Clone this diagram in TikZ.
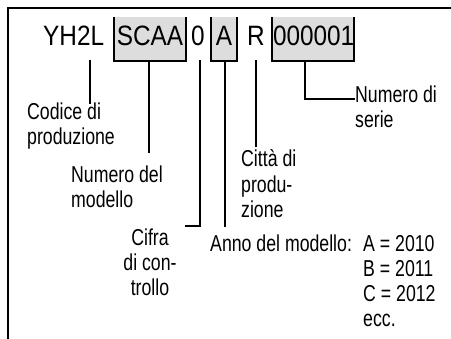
\documentclass[tikz,border=0pt]{standalone}
\usepackage{fontspec}
\setmainfont{Liberation Sans}
\newfontfamily\narrowf[FakeStretch=0.77]{Liberation Sans}
\newfontfamily\codef[FakeStretch=0.87]{Liberation Sans}
\definecolor{boxgray}{RGB}{221,221,221}
\tikzset{
  code/.style={font=\codef\fontsize{28}{30}\selectfont, inner sep=0pt, anchor=base},
  lbl/.style={font=\narrowf\fontsize{23}{25}\selectfont, inner sep=0pt, anchor=base west},
  lblc/.style={lbl, anchor=base},
  conn/.style={line width=2.5pt},
  bracket/.style={line width=2.5pt},
  framel/.style={line width=2.5pt},
}
\begin{document}
\begin{tikzpicture}[x=1pt,y=-1pt]
\useasboundingbox (0,0) rectangle (451,339);
% frame
\draw[framel] (8,339) -- (8,8) -- (451,8);
% grey bracket boxes
\fill[boxgray] (114,17) rectangle (186,61);
\fill[boxgray] (211,17) rectangle (237,61);
\fill[boxgray] (272,17) rectangle (354,61);
\draw[bracket] (114,17) -- (114,61) -- (186,61) -- (186,17);
\draw[bracket] (211,17) -- (211,61) -- (237,61) -- (237,17);
\draw[bracket] (272,17) -- (272,61) -- (354,61) -- (354,17);
% code
\node[code, anchor=base west] (yh) at (43,46) {YH2L};
\node[code] (scaa) at (150,46) {SCAA};
\node[code] (zero) at (198,46) {0};
\node[code] (yr) at (224,46) {A};
\node[code] (city) at (256,46) {R};
\node[code, anchor=base east] (serial) at (354.5,46) {000001};
% labels
\node[lbl] (codice) at (27,120) {Codice di};
\node[lbl] (codice2) at (27,145) {produzione};
\node[lbl] (modello) at (71,183) {Numero del};
\node[lbl] (modello2) at (71,208) {modello};
\node[lblc] (cifra) at (150,246) {Cifra};
\node[lblc] (cifra2) at (150,271) {di con-};
\node[lblc] (cifra3) at (150,296) {trollo};
\node[lbl] (citta) at (241,167) {Città di};
\node[lbl] (citta2) at (241,193) {produ-};
\node[lbl] (citta3) at (241,218) {zione};
\node[lbl] (annol) at (210,252) {Anno del modello:};
\node[lbl] (a2010) at (363,252) {A = 2010};
\node[lbl] (b2011) at (363,277) {B = 2011};
\node[lbl] (c2012) at (363,302) {C = 2012};
\node[lbl] (ecc) at (363,327) {ecc.};
\node[lbl] (serie) at (355,103) {Numero di};
\node[lbl] (serie2) at (355,128) {serie};
% connector start points
\coordinate (s1) at (90,60);
\coordinate (s2) at (149,60);
\coordinate (s3) at (200,60);
\coordinate (s4) at (225,60);
\coordinate (s5) at (256,60);
\coordinate (s6) at (305,60);
% connector ends
\coordinate (e1) at (90,104);
\coordinate (e2) at (149,153);
\coordinate (e3) at (185,226);
\coordinate (e4) at (225,227);
\coordinate (e5) at (256,147);
\coordinate (e6) at (355,99);
\draw[conn] (s1) -- (e1);
\draw[conn] (s2) -- (e2);
\draw[conn] (s3) |- (e3);
\draw[conn] (s4) -- (e4);
\draw[conn] (s5) -- (e5);
\draw[conn] (s6) |- (e6);
\end{tikzpicture}
\end{document}
